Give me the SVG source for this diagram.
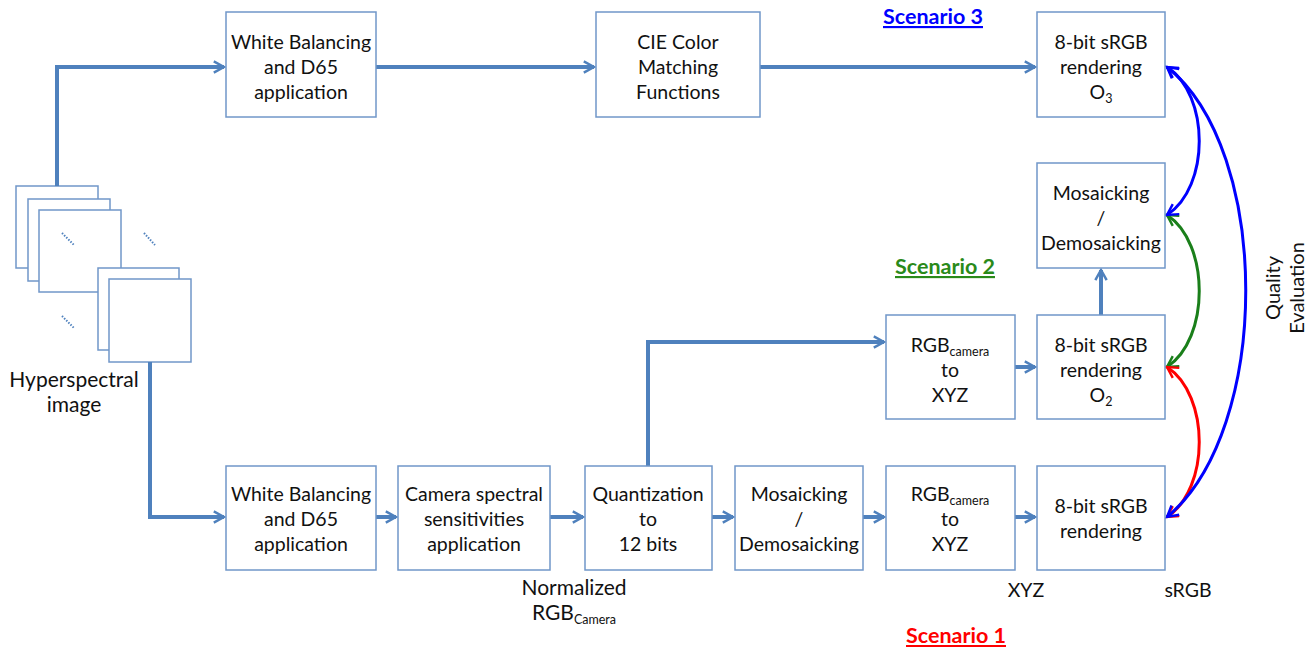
<svg xmlns="http://www.w3.org/2000/svg" width="1310" height="647" viewBox="0 0 1310 647">
<defs>
<style>
.box{fill:#fff;stroke:#7097c9;stroke-width:1.5}
.t{font-family:Lato,"Open Sans",sans-serif;font-size:19.5px;fill:#111;text-anchor:middle}
.l{font-size:21px}
.qe{font-size:20px}
.sub{font-size:12.5px}
.conn{fill:none;stroke:#4f81bd;stroke-width:4}
.dot{stroke:#4f81bd;stroke-width:2;stroke-dasharray:1.5 1.5}
.sc{font-family:Lato,"Open Sans",sans-serif;font-size:21.5px;font-weight:bold;text-anchor:middle;text-decoration:underline}
.q{fill:none;stroke-width:3}
</style>
<marker id="ah" viewBox="0 0 12 12" refX="10" refY="6" markerWidth="3.4" markerHeight="3.4" orient="auto" markerUnits="strokeWidth">
<path d="M1,1 L10,6 L1,11" fill="none" stroke="#4f81bd" stroke-width="2.2"/>
</marker>
<marker id="ab" viewBox="0 0 12 12" refX="10" refY="6" markerWidth="4.8" markerHeight="4.8" orient="auto-start-reverse" markerUnits="strokeWidth">
<path d="M1,1 L10,6 L1,11" fill="none" stroke="#0000ff" stroke-width="2"/>
</marker>
<marker id="ag" viewBox="0 0 12 12" refX="10" refY="6" markerWidth="4.8" markerHeight="4.8" orient="auto-start-reverse" markerUnits="strokeWidth">
<path d="M1,1 L10,6 L1,11" fill="none" stroke="#1a7f1a" stroke-width="2"/>
</marker>
<marker id="ar" viewBox="0 0 12 12" refX="10" refY="6" markerWidth="4.8" markerHeight="4.8" orient="auto-start-reverse" markerUnits="strokeWidth">
<path d="M1,1 L10,6 L1,11" fill="none" stroke="#ff0000" stroke-width="2"/>
</marker>
</defs>
<rect width="1310" height="647" fill="#fff"/>

<g id="hyperspectral">
<rect class="box" x="16" y="186" width="82" height="82"/>
<rect class="box" x="28" y="199" width="82" height="82"/>
<rect class="box" x="39" y="210" width="82" height="82"/>
<rect class="box" x="98" y="268" width="81" height="82"/>
<rect class="box" x="109" y="279" width="82" height="83"/>
<line class="dot" x1="62" y1="233" x2="74" y2="245"/>
<line class="dot" x1="144" y1="233" x2="155" y2="245"/>
<line class="dot" x1="62" y1="316" x2="74" y2="328"/>
<text class="t l" x="74" y="387">Hyperspectral</text>
<text class="t l" x="74" y="412">image</text>
</g>

<g id="connectors">
<path class="conn" d="M57,186 V67 H224" marker-end="url(#ah)"/>
<path class="conn" d="M376,67 H594" marker-end="url(#ah)"/>
<path class="conn" d="M760,67 H1035" marker-end="url(#ah)"/>
<path class="conn" d="M150,362 V517 H224" marker-end="url(#ah)"/>
<path class="conn" d="M376,517 H396" marker-end="url(#ah)"/>
<path class="conn" d="M550,517 H583" marker-end="url(#ah)"/>
<path class="conn" d="M712,517 H733" marker-end="url(#ah)"/>
<path class="conn" d="M863,517 H884" marker-end="url(#ah)"/>
<path class="conn" d="M1015,517 H1035" marker-end="url(#ah)"/>
<path class="conn" d="M648,466 V342 H884" marker-end="url(#ah)"/>
<path class="conn" d="M1015,367 H1035" marker-end="url(#ah)"/>
<path class="conn" d="M1101,315 V270" marker-end="url(#ah)"/>
<path class="q" stroke="#1a7f1a" d="M1167,215 C1210,243 1210,339 1167,367" marker-start="url(#ag)" marker-end="url(#ag)"/>
<path class="q" stroke="#ff0000" d="M1167,367 C1210,395 1210,489 1167,517" marker-start="url(#ar)" marker-end="url(#ar)"/>
<path class="q" stroke="#0000ff" d="M1167,67 C1210,95 1210,187 1167,215" marker-start="url(#ab)" marker-end="url(#ab)"/>
<path class="q" stroke="#0000ff" d="M1167,67 C1272,150 1272,430 1167,517" marker-start="url(#ab)" marker-end="url(#ab)"/>
</g>

<g id="wb_top">
<rect class="box" x="226" y="12" width="150" height="105"/>
<text class="t" x="301" y="49">White Balancing</text>
<text class="t" x="301" y="74">and D65</text>
<text class="t" x="301" y="99">application</text>
</g>
<g id="cie">
<rect class="box" x="596" y="12" width="164" height="105"/>
<text class="t" x="678" y="49">CIE Color</text>
<text class="t" x="678" y="74">Matching</text>
<text class="t" x="678" y="99">Functions</text>
</g>
<g id="o3">
<rect class="box" x="1037" y="12" width="128" height="105"/>
<text class="t" x="1101" y="49">8-bit sRGB</text>
<text class="t" x="1101" y="74">rendering</text>
<text class="t" x="1101" y="99">O<tspan class="sub" dy="4">3</tspan></text>
</g>
<g id="mosaic_top">
<rect class="box" x="1037" y="163" width="128" height="105"/>
<text class="t" x="1101" y="200">Mosaicking</text>
<text class="t" x="1101" y="225">/</text>
<text class="t" x="1101" y="250">Demosaicking</text>
</g>
<g id="rgbxyz_mid">
<rect class="box" x="886" y="315" width="129" height="104"/>
<text class="t" x="950" y="352">RGB<tspan class="sub" dy="4">camera</tspan></text>
<text class="t" x="950" y="377">to</text>
<text class="t" x="950" y="402">XYZ</text>
</g>
<g id="o2">
<rect class="box" x="1037" y="315" width="128" height="104"/>
<text class="t" x="1101" y="352">8-bit sRGB</text>
<text class="t" x="1101" y="377">rendering</text>
<text class="t" x="1101" y="402">O<tspan class="sub" dy="4">2</tspan></text>
</g>
<g id="wb_bot">
<rect class="box" x="226" y="466" width="150" height="104"/>
<text class="t" x="301" y="501">White Balancing</text>
<text class="t" x="301" y="526">and D65</text>
<text class="t" x="301" y="551">application</text>
</g>
<g id="camera">
<rect class="box" x="398" y="466" width="152" height="104"/>
<text class="t" x="474" y="501">Camera spectral</text>
<text class="t" x="474" y="526">sensitivities</text>
<text class="t" x="474" y="551">application</text>
</g>
<g id="quant">
<rect class="box" x="585" y="466" width="127" height="104"/>
<text class="t" x="648" y="501">Quantization</text>
<text class="t" x="648" y="526">to</text>
<text class="t" x="648" y="551">12 bits</text>
</g>
<g id="mosaic_bot">
<rect class="box" x="735" y="466" width="128" height="104"/>
<text class="t" x="799" y="501">Mosaicking</text>
<text class="t" x="799" y="526">/</text>
<text class="t" x="799" y="551">Demosaicking</text>
</g>
<g id="rgbxyz_bot">
<rect class="box" x="886" y="466" width="129" height="104"/>
<text class="t" x="950" y="501">RGB<tspan class="sub" dy="4">camera</tspan></text>
<text class="t" x="950" y="526">to</text>
<text class="t" x="950" y="551">XYZ</text>
</g>
<g id="srgb_bot">
<rect class="box" x="1037" y="466" width="128" height="104"/>
<text class="t" x="1101" y="513">8-bit sRGB</text>
<text class="t" x="1101" y="538">rendering</text>
</g>

<g id="labels">
<text class="t l" x="574" y="595">Normalized</text>
<text class="t l" x="574" y="620">RGB<tspan class="sub" dy="4">Camera</tspan></text>
<text class="t" x="1026" y="597">XYZ</text>
<text class="t" x="1188" y="597">sRGB</text>
<text class="sc" x="933" y="24" fill="#0000ff">Scenario 3</text>
<text class="sc" x="945" y="274" fill="#2a8a1a">Scenario 2</text>
<text class="sc" x="956" y="643" fill="#ff0000">Scenario 1</text>
<text class="t qe" transform="translate(1280,288) rotate(-90)">Quality</text>
<text class="t qe" transform="translate(1304,288) rotate(-90)">Evaluation</text>
</g>
</svg>
